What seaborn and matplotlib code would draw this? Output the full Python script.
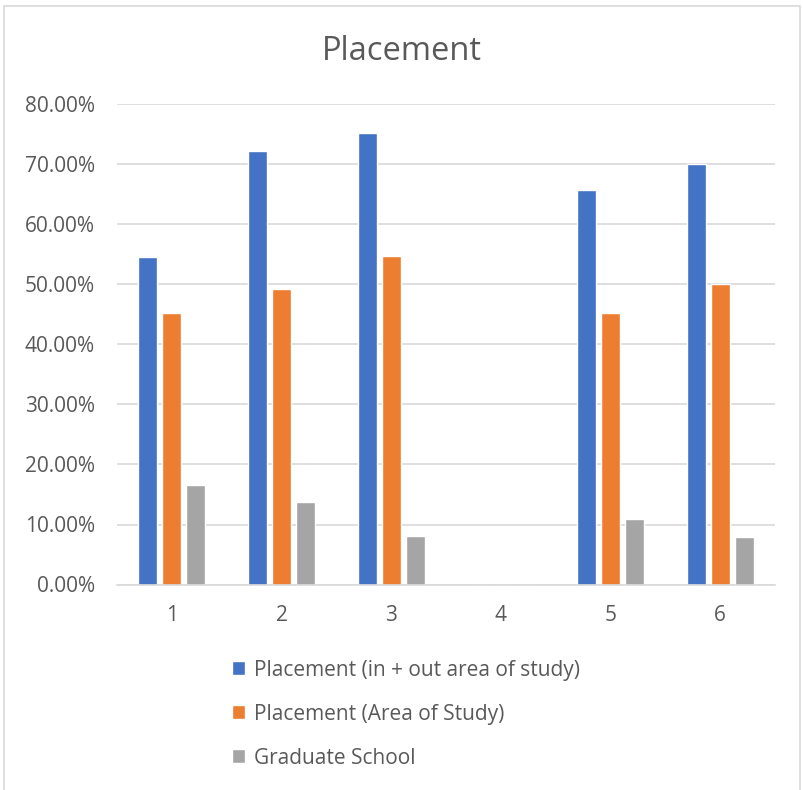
import matplotlib
matplotlib.use("Agg")
import matplotlib.pyplot as plt
import matplotlib.patches as mpatches
import seaborn as sns
import pandas as pd
from matplotlib.ticker import PercentFormatter, MultipleLocator

categories = ["1", "2", "3", "4", "5", "6"]
series_names = ["Placement (in + out area of study)", "Placement (Area of Study)", "Graduate School"]
placement_total = [0.545, 0.722, 0.753, 0.0, 0.657, 0.700]
placement_area = [0.453, 0.492, 0.547, 0.0, 0.453, 0.500]
grad_school = [0.166, 0.138, 0.081, 0.0, 0.109, 0.079]
colors = ["#4472C4", "#ED7D31", "#A5A5A5"]

rows = []
for name, vals in zip(series_names, [placement_total, placement_area, grad_school]):
    for c, v in zip(categories, vals):
        rows.append({"cat": c, "series": name, "value": v})
df = pd.DataFrame(rows)

sns.set_theme(style="white")
plt.rcParams["font.family"] = ["Open Sans", "DejaVu Sans"]

fig = plt.figure(figsize=(8.04, 7.90), dpi=100)
ax = fig.add_axes([117/804, 1-584.5/790, (775-117)/804, 480/790])

sns.barplot(data=df, x="cat", y="value", hue="series", order=categories,
            hue_order=series_names, palette=colors, width=0.656, gap=0.2,
            saturation=1, ax=ax, legend=True, errorbar=None)

ax.set_ylim(0, 0.8)
ax.set_xlim(-0.5, 5.5)
ax.yaxis.set_major_locator(MultipleLocator(0.1))
ax.yaxis.set_major_formatter(PercentFormatter(1.0, decimals=2))
ax.grid(axis="y", color="#D9D9D9", linewidth=1.2)
ax.set_axisbelow(True)
for s in ["top", "right", "left"]:
    ax.spines[s].set_visible(False)
ax.spines["bottom"].set_color("#D9D9D9")
ax.spines["bottom"].set_linewidth(1.2)
ax.tick_params(axis="both", length=0, colors="#595959", labelsize=15)
ax.tick_params(axis="y", pad=16)
ax.tick_params(axis="x", pad=15)
ax.set_xlabel("")
ax.set_ylabel("")

handles, labels = ax.get_legend_handles_labels()
ax.get_legend().remove()
leg = fig.legend(handles, labels, loc="upper left", bbox_to_anchor=(213/804, 1-641/790),
                 frameon=False, fontsize=15, labelcolor="#595959",
                 handlelength=0.65, handleheight=0.65, handletextpad=0.4,
                 labelspacing=1.1)

fig.text(0.5, 1-51/790, "Placement", ha="center", va="center", fontsize=23.5,
         color="#595959")

border = mpatches.Rectangle((4/804, -0.05), 796/804, 1.05 - 6/790, transform=fig.transFigure,
                            fill=False, edgecolor="#D9D9D9", linewidth=1.2)
fig.patches.append(border)

fig.savefig("out.png", dpi=100)
